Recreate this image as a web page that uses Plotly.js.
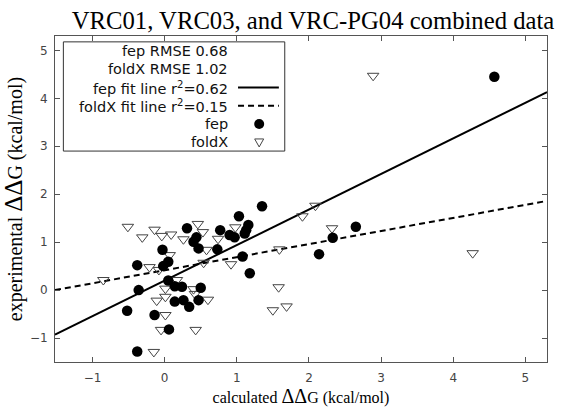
<!DOCTYPE html>
<html><head><meta charset="utf-8">
<script src="https://cdn.plot.ly/plotly-3.0.1.min.js"></script>
<style>html,body{margin:0;padding:0;background:#fff}</style>
</head><body><div id="chart" style="width:563px;height:408px"></div>
<script>
const fepX = [1.35,1.03,1.16,1.13,1.11,0.31,0.77,0.90,0.97,0.44,0.40,0.47,0.73,-0.03,0.05,-0.02,-0.38,1.08,1.18,0.05,-0.36,0.14,0.24,0.50,0.14,0.26,0.34,0.47,-0.52,-0.14,0.06,-0.38,4.57,2.65,2.33,2.14];
const fepY = [1.75,1.54,1.36,1.25,1.18,1.29,1.25,1.15,1.10,1.10,1.01,0.87,0.85,0.84,0.59,0.50,0.52,0.70,0.35,0.20,0.00,0.08,0.07,0.05,-0.24,-0.21,-0.35,-0.21,-0.43,-0.52,-0.82,-1.28,4.45,1.32,1.09,0.75];
const foldxX = [-0.51,-0.31,-0.14,-0.04,0.09,0.26,0.46,0.53,0.74,0.98,0.58,0.07,-0.21,-0.08,0.54,0.92,1.59,1.91,-0.85,0.17,0.01,0.40,-0.11,0.01,0.60,0.42,0.01,-0.05,0.43,-0.15,1.58,1.50,1.69,2.09,2.32,2.89,4.27];
const foldxY = [1.32,1.10,1.26,1.13,1.16,1.06,1.38,1.21,1.07,1.31,0.84,0.73,0.48,0.42,0.57,0.54,0.85,1.54,0.21,0.21,0.03,0.02,-0.22,-0.14,-0.20,-0.08,-0.52,-0.83,-0.83,-1.29,0.06,-0.42,-0.34,1.76,1.29,4.47,0.77];
const fitX = [-1.52, 5.3];
const fepFitY = [-0.93, 4.13];
const foldxFitY = [0.0, 1.86];
const legendLabels = ["fep RMSE 0.68", "foldX RMSE 1.02", "fep fit line r<sup>2</sup>=0.62", "foldX fit line r<sup>2</sup>=0.15", "fep", "foldX"];
const tickVals = [-1, 0, 1, 2, 3, 4, 5];
const titleText = "VRC01, VRC03, and VRC-PG04 combined data";
const xTitle = "calculated <span style='font-size:20px'>ΔΔ</span>G (kcal/mol)";
const yTitle = "experimental <span style='font-size:25px'>ΔΔ</span>G (kcal/mol)";

const traces = [
  {x: fitX, y: fepFitY, mode: 'lines', line: {color: '#000', width: 2}, hoverinfo: 'skip'},
  {x: fitX, y: foldxFitY, mode: 'lines', line: {color: '#000', width: 2, dash: '6px,4px'}, hoverinfo: 'skip'},
  {x: foldxX, y: foldxY, mode: 'markers', marker: {symbol: 'triangle-down-open', size: 10, color: '#444', line: {width: 1, color: '#444'}}},
  {x: fepX, y: fepY, mode: 'markers', marker: {symbol: 'circle', size: 10.5, color: '#000'}}
];

// legend box (manual, gnuplot style: text right-aligned, sample on right)
const L = {x0: 0.017, x1: 0.467, y0: 0.647, y1: 0.982, tx: 0.356, sx0: 0.372, sx1: 0.455, mx: 0.415};
const rowY = [0.954, 0.899, 0.842, 0.786, 0.730, 0.675];
const annotations = legendLabels.map((t, i) => ({
  xref: 'paper', yref: 'paper', x: L.tx, y: rowY[i], xanchor: 'right', yanchor: 'middle',
  text: t, showarrow: false, font: {family: 'DejaVu Sans', size: 14.5, color: '#111'}
}));
const W = 492, H = 326;
const r = 5 / W, rv = 5 / H;
const shapes = [
  {type: 'rect', xref: 'paper', yref: 'paper', x0: L.x0, x1: L.x1, y0: L.y0, y1: L.y1, line: {color: '#333', width: 1}, fillcolor: 'rgba(255,255,255,0)'},
  {type: 'line', xref: 'paper', yref: 'paper', x0: L.sx0, x1: L.sx1, y0: rowY[2], y1: rowY[2], line: {color: '#000', width: 2}},
  {type: 'line', xref: 'paper', yref: 'paper', x0: L.sx0, x1: L.sx1, y0: rowY[3], y1: rowY[3], line: {color: '#000', width: 2, dash: '6px,4px'}},
  {type: 'circle', xref: 'paper', yref: 'paper', x0: L.mx - r, x1: L.mx + r, y0: rowY[4] - rv, y1: rowY[4] + rv, line: {color: '#000', width: 0}, fillcolor: '#000'},
  {type: 'path', xref: 'paper', yref: 'paper',
   path: `M ${L.mx - 4.5/W},${rowY[5] + 3/H} L ${L.mx + 4.5/W},${rowY[5] + 3/H} L ${L.mx},${rowY[5] - 5/H} Z`,
   line: {color: '#444', width: 1}, fillcolor: 'rgba(255,255,255,0)'}
];

const axisCommon = {
  showgrid: false, zeroline: false, showline: true, linecolor: '#555', linewidth: 1, mirror: 'ticks',
  ticks: 'inside', ticklen: 5, tickcolor: '#555', tickvals: tickVals,
  tickfont: {family: 'DejaVu Sans', size: 12, color: '#444'}
};
const layout = {
  width: 563, height: 408,
  margin: {l: 55, r: 16, t: 36, b: 46},
  paper_bgcolor: '#fff', plot_bgcolor: '#fff', showlegend: false,
  title: {text: titleText, x: 0.556, xanchor: 'center', y: 0.951, yanchor: 'middle',
          font: {family: 'Liberation Serif', size: 24.7, color: '#000'}},
  xaxis: Object.assign({}, axisCommon, {range: [-1.52, 5.3], ticklabelstandoff: 5,
          title: {text: xTitle, standoff: 6, font: {family: 'Liberation Serif', size: 16, color: '#000'}}}),
  yaxis: Object.assign({}, axisCommon, {range: [-1.5, 5.3], ticklabelstandoff: 4,
          title: {text: yTitle, standoff: 1, font: {family: 'Liberation Serif', size: 20, color: '#000'}}}),
  shapes: shapes, annotations: annotations
};
Plotly.newPlot('chart', traces, layout, {displayModeBar: false, staticPlot: true});
</script></body></html>
